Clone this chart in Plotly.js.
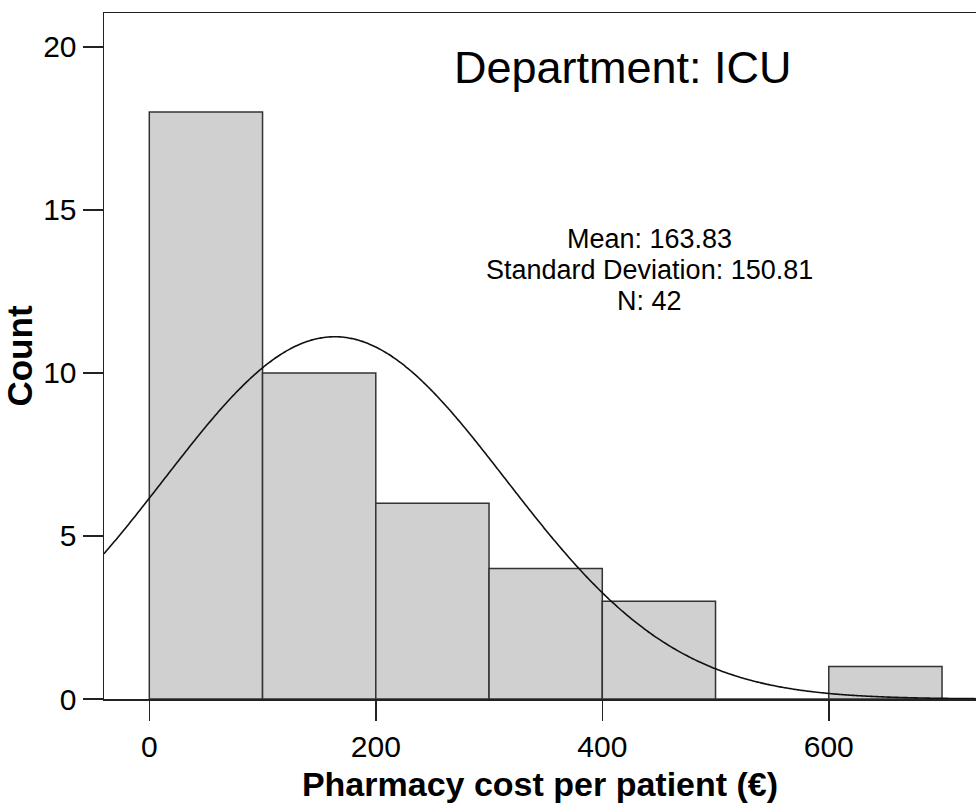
<!DOCTYPE html>
<html>
<head>
<meta charset="utf-8">
<script src="https://cdn.plot.ly/plotly-3.0.1.min.js"></script>
<style>
  html, body { margin: 0; padding: 0; background: #fff; }
  #chart { width: 976px; height: 803px; }
</style>
</head>
<body>
<div id="chart"></div>
<script>
// ---- data ----
const binCenters = [50, 150, 250, 350, 450, 550, 650];
const counts     = [18, 10, 6, 4, 3, 0, 1];
const binWidth   = 100;
const meanValue  = 163.83;
const sdValue    = 150.81;
const nValue     = 42;
const xTickVals  = [0, 200, 400, 600];
const yTickVals  = [0, 5, 10, 15, 20];
const titleText  = "Department: ICU";
const statLines  = ["Mean: 163.83", "Standard Deviation: 150.81", "N: 42"];

// fitted normal curve from the stated mean / SD / N (as drawn by the original)
const curveX = [];
const curveY = [];
for (let x = -40; x <= 730; x += 2) {
  const z = (x - meanValue) / sdValue;
  curveX.push(x);
  curveY.push(nValue * binWidth * Math.exp(-0.5 * z * z) / (sdValue * Math.sqrt(2 * Math.PI)));
}

const FONT = "Liberation Sans, Arial, Helvetica, sans-serif";
const AX = "#222";

const traces = [
  {
    type: "bar",
    x: binCenters,
    y: counts,
    width: binWidth,
    marker: { color: "#d0d0d0", line: { color: "#333", width: 1.5 } },
    hoverinfo: "skip"
  },
  {
    type: "scatter",
    mode: "lines",
    x: curveX,
    y: curveY,
    line: { color: "#111", width: 1.6, shape: "spline" },
    hoverinfo: "skip"
  }
];

// stat lines centred at y = 239, 270, 301 px
const statY = [(699 - 239) / 686, (699 - 270) / 686, (699 - 301) / 686];
const annotations = [
  {
    xref: "paper", yref: "paper", x: 0.595, y: 0.920,
    xanchor: "center", yanchor: "middle", showarrow: false,
    text: titleText, font: { family: FONT, size: 45, color: "#000" }
  }
].concat(statLines.map((t, i) => ({
  xref: "paper", yref: "paper", x: 0.626, y: statY[i],
  xanchor: "center", yanchor: "middle", showarrow: false,
  text: t, font: { family: FONT, size: 27, color: "#000" }
})));

const layout = {
  width: 976,
  height: 803,
  margin: { l: 104, r: 0, t: 13, b: 104, pad: 0 },
  paper_bgcolor: "#fff",
  plot_bgcolor: "#fff",
  showlegend: false,
  bargap: 0,
  font: { family: FONT, color: "#000" },
  xaxis: {
    range: [-40, 730],
    tickvals: xTickVals,
    ticks: "outside", ticklen: 20, tickwidth: 1.5, tickcolor: AX,
    showline: true, linecolor: AX, linewidth: 1.5, mirror: true,
    showgrid: false, zeroline: false,
    tickfont: { family: FONT, size: 30, color: "#000" },
    title: { text: "<b>Pharmacy cost per patient (€)</b>", font: { family: FONT, size: 34, color: "#000" }, standoff: 10 }
  },
  yaxis: {
    range: [0, 21.04],
    tickvals: yTickVals,
    ticks: "outside", ticklen: 20, tickwidth: 1.5, tickcolor: AX,
    showline: true, linecolor: AX, linewidth: 1.5,
    showgrid: false, zeroline: false,
    tickfont: { family: FONT, size: 30, color: "#000" },
    title: { text: "<b>Count</b>", font: { family: FONT, size: 35, color: "#000" }, standoff: 8 }
  },
  annotations: annotations
};

Plotly.newPlot("chart", traces, layout, { staticPlot: true, displayModeBar: false });
</script>
</body>
</html>
